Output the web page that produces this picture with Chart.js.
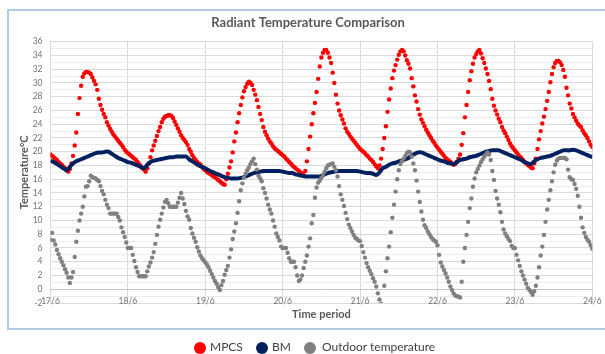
<!DOCTYPE html>
<html>
<head>
<meta charset="utf-8">
<script src="https://cdn.jsdelivr.net/npm/chart.js@4.4.0/dist/chart.umd.min.js"></script>
<style>
  html,body{margin:0;padding:0;background:#fff;overflow:hidden}
  #wrap{position:relative;width:605px;height:354px}
  #frame{position:absolute;left:7px;top:9px;width:606px;height:321px;border:2px solid #b3cbe5;box-sizing:border-box}
  #c{position:absolute;left:0;top:0}
  .lg{position:absolute;top:341px;height:12px;font:12px Lato,'Open Sans',sans-serif;color:#404040;line-height:12px;white-space:nowrap}
  .dot{position:absolute;top:341.5px;width:12px;height:12px;border-radius:50%}
</style>
</head>
<body>
<div id="wrap">
  <div id="frame"></div>
  <canvas id="c" width="605" height="354"></canvas>
  <span class="dot" style="left:194px;background:#ff0000"></span><span class="lg" style="left:210px">MPCS</span>
  <span class="dot" style="left:256px;background:#002060"></span><span class="lg" style="left:272px">BM</span>
  <span class="dot" style="left:304px;background:#808080"></span><span class="lg" style="left:322px">Outdoor temperature</span>
</div>
<script>
/* ===== Data (x in hours from 17/6 00:00) ===== */
const dayLabels = ['17/6','18/6','19/6','20/6','21/6','22/6','23/6','24/6'];

// MPCS, every 30 min
const mpcs = [
  19.6,19.4,19.2,19.0,18.8,18.5,18.3,18.1,17.8,17.6,17.3,17.1,
  17.5,18.3,19.4,20.9,22.8,25.5,27.8,29.6,30.9,31.4,31.6,31.6,
  31.5,31.3,30.8,30.3,29.8,29.0,27.7,26.8,26.1,25.5,25.0,24.3,
  23.8,23.3,22.9,22.5,22.2,21.9,21.6,21.3,21.0,20.7,20.3,20.0,
  19.8,19.6,19.4,19.2,19.0,18.8,18.5,18.2,17.9,17.6,17.4,17.1,
  17.6,18.3,19.2,20.2,20.9,21.6,22.3,23.0,23.6,24.3,24.8,25.1,
  25.2,25.3,25.3,25.2,24.9,24.4,23.9,23.4,22.9,22.4,22.0,21.7,
  21.4,21.0,20.4,20.0,19.5,19.1,18.8,18.5,18.3,18.1,17.8,17.5,
  17.3,17.1,16.9,16.8,16.6,16.4,16.3,16.1,15.9,15.7,15.5,15.3,
  15.2,16.0,16.8,17.7,18.6,19.9,21.5,22.8,24.3,25.6,26.8,27.9,
  28.8,29.4,29.9,30.2,30.0,29.7,29.0,28.3,27.5,26.5,25.5,24.6,
  23.6,22.9,22.4,21.9,21.5,21.2,20.8,20.5,20.3,20.1,19.9,19.7,
  19.5,19.3,19.0,18.8,18.5,18.3,18.0,17.8,17.6,17.4,17.2,17.0,
  16.8,16.6,17.2,18.6,20.4,22.2,24.0,25.6,27.1,28.7,30.6,32.4,
  33.7,34.4,34.8,34.8,34.4,33.7,32.9,31.5,30.0,28.3,27.0,26.0,
  25.3,24.7,24.1,23.4,22.9,22.6,22.2,21.9,21.6,21.3,21.0,20.7,
  20.4,20.2,20.0,19.8,19.5,19.3,19.0,18.8,18.5,18.2,17.9,17.6,
  18.0,19.0,20.4,22.0,23.7,25.8,27.6,29.2,30.7,31.8,32.6,33.4,
  34.1,34.6,34.8,34.6,34.0,33.3,32.8,32.1,30.7,29.5,28.2,27.3,
  26.2,25.4,24.7,24.2,23.7,23.2,22.8,22.4,22.0,21.6,21.3,20.9,
  20.6,20.3,20.0,19.7,19.4,19.1,18.9,18.7,18.5,18.3,18.1,18.2,
  18.5,19.0,19.6,21.0,22.7,25.0,26.8,28.7,30.4,31.7,32.8,33.7,
  34.2,34.6,34.8,34.3,33.6,32.9,32.1,31.3,30.3,29.1,27.7,26.7,
  26.0,25.4,24.8,24.3,23.6,23.1,22.7,22.2,21.7,21.2,20.8,20.5,
  20.2,19.9,19.6,19.3,19.1,18.8,18.5,18.3,18.1,17.9,17.7,17.6,
  18.3,19.0,20.4,21.8,23.0,24.1,25.1,26.2,27.4,28.7,30.1,31.3,
  32.3,32.9,33.2,33.2,33.0,32.6,31.9,30.9,29.3,28.2,27.0,26.3,
  25.5,25.0,24.5,24.1,23.8,23.6,23.1,22.7,22.4,22.0,21.5,21.0,
  20.7
];

// BM, hourly
const bm = [
  18.7,18.5,18.2,17.9,17.6,17.3,17.8,18.3,18.6,18.8,19.0,19.2,19.4,19.6,19.8,19.9,19.9,20.0,20.0,19.7,19.4,19.1,18.9,18.7,
  18.5,18.4,18.2,18.0,17.8,17.6,18.1,18.5,18.7,18.8,18.9,19.0,19.1,19.2,19.2,19.3,19.3,19.3,19.3,18.9,18.6,18.3,18.0,17.8,
  17.6,17.3,17.1,16.9,16.7,16.5,16.3,16.2,16.1,16.1,16.1,16.2,16.3,16.5,16.7,16.9,17.0,17.1,17.2,17.2,17.2,17.2,17.2,17.2,
  17.1,17.0,16.9,16.9,16.7,16.6,16.5,16.4,16.4,16.4,16.4,16.4,16.5,16.7,16.9,17.0,17.1,17.2,17.2,17.2,17.2,17.2,17.2,17.2,
  17.1,17.0,16.9,16.9,16.8,16.6,17.0,17.6,17.8,18.1,18.3,18.4,18.6,18.7,18.9,19.1,19.4,19.7,19.9,19.9,19.7,19.5,19.3,19.1,
  18.9,18.7,18.6,18.4,18.3,18.2,18.5,18.8,18.9,19.0,19.2,19.3,19.4,19.6,19.8,20.0,20.1,20.2,20.2,20.2,20.0,19.8,19.6,19.4,
  19.2,19.0,18.8,18.5,18.3,18.2,18.6,18.9,19.1,19.2,19.3,19.4,19.6,19.8,20.0,20.2,20.2,20.2,20.3,20.2,20.0,19.8,19.6,19.4,
  19.2
];

// Outdoor temperature, every 30 min
const outdoor = [
  7.2,8.2,7.1,6.5,5.7,5.1,4.5,4.0,3.5,2.9,2.4,1.7,
  0.9,1.7,2.5,4.7,6.9,8.5,10.0,11.0,12.0,13.5,14.9,15.0,
  15.7,16.5,16.3,16.2,16.1,15.9,15.7,15.0,14.3,13.8,13.0,12.3,
  11.8,11.0,11.0,11.0,11.0,11.0,10.5,10.0,9.0,8.3,7.6,6.8,
  6.0,6.0,6.0,5.0,4.1,3.2,2.5,1.9,1.9,1.9,1.9,1.9,
  2.6,3.3,3.9,4.6,5.4,6.6,7.9,9.1,10.1,11.0,11.9,12.7,
  13.0,12.5,12.0,12.0,12.0,12.0,12.0,12.6,13.3,14.0,13.2,12.4,
  11.4,10.6,10.1,8.9,8.1,7.5,6.9,6.1,5.5,4.9,4.5,4.2,
  3.9,3.6,3.2,2.7,2.2,1.7,1.2,0.8,0.3,-0.1,0.6,1.2,
  2.1,2.8,3.4,4.6,5.8,7.3,8.4,9.6,11.1,12.8,14.4,15.4,
  16.2,16.8,17.3,17.7,18.2,18.6,19.0,18.2,17.4,16.5,16.1,15.7,
  14.7,14.0,13.2,12.3,11.6,11.0,10.0,9.1,8.1,7.6,7.1,6.2,
  6.0,6.0,6.0,5.3,4.5,4.0,4.0,4.0,3.2,2.0,1.2,1.4,
  2.0,3.1,4.0,4.9,6.2,7.4,9.6,10.8,13.3,14.8,15.5,15.8,
  16.2,16.6,17.1,17.6,18.0,18.1,18.2,18.3,17.8,17.3,16.4,15.0,
  13.8,13.0,12.1,11.1,10.2,9.4,8.9,8.4,7.9,7.5,7.3,7.1,
  7.0,6.3,5.4,4.6,3.8,3.2,2.7,2.2,1.6,1.1,0.4,-0.6,
  -1.5,-2.1,-2.6,0.5,2.6,4.5,6.2,8.3,10.4,12.3,14.2,16.0,
  17.3,18.2,18.6,19.0,19.4,19.8,20.0,19.9,19.3,18.3,17.3,15.8,
  14.2,12.7,11.3,10.1,9.3,8.9,8.4,8.0,7.6,7.3,7.1,6.9,
  6.4,5.0,3.9,3.3,2.8,2.3,1.7,1.1,0.4,-0.1,-0.6,-0.9,
  -1.0,-1.1,-1.2,1.1,4.0,6.0,7.9,9.8,11.8,13.2,14.9,16.1,
  17.0,17.5,18.0,18.5,18.9,19.3,19.6,19.9,19.6,18.8,17.2,15.9,
  14.3,13.2,12.3,11.2,9.8,8.7,8.1,7.7,7.3,7.0,6.3,6.0,
  6.0,5.0,4.2,3.4,2.6,2.0,1.4,0.8,0.2,-0.1,-0.4,-0.8,
  -0.3,0.5,1.7,3.2,4.9,6.2,7.9,9.8,11.6,13.0,14.4,15.7,
  17.0,18.1,18.7,19.0,19.1,19.1,19.1,19.1,18.9,17.4,16.3,16.0,
  15.9,15.3,14.6,13.6,12.0,10.4,9.0,8.2,7.6,7.2,6.9,6.4,
  5.9
];

/* ===== Helpers ===== */
function pts(arr, step){ return arr.map((v,i)=>({x:i*step, y:v})); }
function gridColor(c){ const v=c.tick.value; return v===0?'#c4c4c4':(v%2?'#ececec':'#d9d9d9'); }

/* ===== Chart ===== */
Chart.defaults.font.family = "Lato, 'Open Sans', sans-serif";
new Chart(document.getElementById('c').getContext('2d'), {
  type:'scatter',
  data:{datasets:[
    {label:'MPCS', data:pts(mpcs,0.5), pointRadius:2.2, pointBackgroundColor:'#ff0000', pointBorderWidth:0, order:2},
    {label:'BM', data:pts(bm,1), showLine:true, borderColor:'#002060', borderWidth:4, pointRadius:0, tension:0.3, order:1},
    {label:'Outdoor temperature', data:pts(outdoor,0.5), pointRadius:2.2, pointBackgroundColor:'#808080', pointBorderWidth:0, order:0}
  ]},
  options:{
    responsive:false, animation:false, events:[],
    layout:{padding:{left:23.7, right:12.7, top:0, bottom:0}},
    plugins:{
      legend:{display:false}, tooltip:{enabled:false},
      title:{display:true, text:'Radiant Temperature Comparison', color:'#595959',
             font:{size:13, weight:'bold'}, padding:{top:15, bottom:11.1}}
    },
    scales:{
      // labels sit on the -2 line like the original, so mirror them (no label clipping)
      x:{type:'linear', min:0, max:168,
         afterFit:(s)=>{ s.height=51; },
         ticks:{stepSize:24, autoSkip:false, maxRotation:0, mirror:true, padding:-3.1, color:'#737373', font:{size:8.5},
                callback:(v)=>dayLabels[v/24]},
         grid:{color:'#d9d9d9', drawTicks:false}, border:{color:'#d9d9d9'},
         title:{display:true, text:'Time period', color:'#595959', font:{size:11, weight:'bold'}, padding:{top:0, bottom:32.9}}},
      y:{min:-2, max:36,
         afterFit:(s)=>{ s.width=26.8; },
         ticks:{stepSize:1, autoSkip:false, padding:8, color:'#737373', font:{size:8.5},
                callback:(v)=>(v%2===0?v:'')},
         grid:{color:gridColor, drawTicks:false}, border:{color:'#d9d9d9'},
         title:{display:true, text:'Temperature°C', color:'#595959', font:{size:11, weight:'bold'}, padding:{top:-6.3, bottom:0}}}
    }
  }
});
</script>
</body>
</html>
